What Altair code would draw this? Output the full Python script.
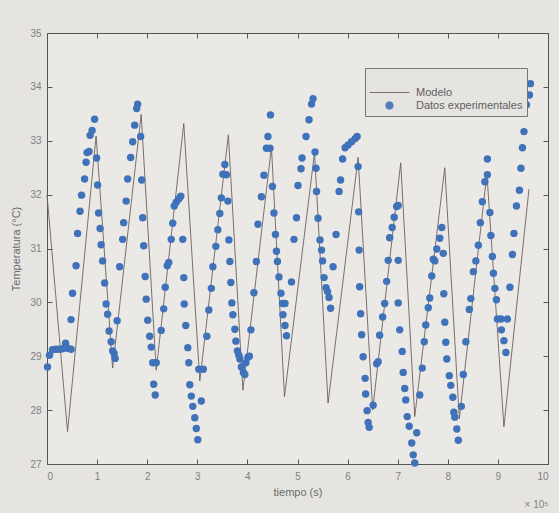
import altair as alt
import pandas as pd

# ---- data (time in units of 1e5 s) ----
t_datos = [0.01, 0.05, 0.11, 0.18, 0.25, 0.31, 0.37, 0.41, 0.48,
           0.48, 0.51, 0.58, 0.61, 0.66, 0.69, 0.75, 0.78, 0.80, 0.84, 0.86, 0.90, 0.95,
           0.99, 1.01, 1.03, 1.06, 1.08, 1.11, 1.15, 1.18, 1.21, 1.24, 1.28, 1.31, 1.34, 1.36,
           1.40, 1.45, 1.51, 1.53, 1.58, 1.61, 1.67, 1.71, 1.75, 1.79, 1.81,
           1.87, 1.89, 1.91, 1.93, 1.96, 1.98, 2.01, 2.05, 2.08, 2.11, 2.13, 2.16, 2.18,
           2.28, 2.33, 2.36, 2.40, 2.43, 2.48, 2.51, 2.54, 2.58, 2.63, 2.67,
           2.71, 2.73, 2.74, 2.77, 2.81, 2.83, 2.85, 2.88, 2.91, 2.95, 2.98, 3.01, 3.03, 3.08, 3.12,
           3.19, 3.23, 3.28, 3.31, 3.37, 3.41, 3.45, 3.48, 3.51, 3.55, 3.58,
           3.61, 3.63, 3.65, 3.67, 3.69, 3.71, 3.75, 3.77, 3.80, 3.83, 3.85, 3.88, 3.92, 3.95, 3.97, 4.01, 4.04,
           4.07, 4.13, 4.18, 4.21, 4.28, 4.33, 4.38, 4.41, 4.45, 4.46,
           4.50, 4.53, 4.56, 4.58, 4.60, 4.63, 4.67, 4.70, 4.75, 4.71, 4.75, 4.78,
           4.88, 4.93, 4.98, 5.01, 5.07, 5.09, 5.17, 5.23, 5.28, 5.31,
           5.35, 5.37, 5.38, 5.41, 5.45, 5.48, 5.50, 5.53, 5.57, 5.60, 5.63, 5.66,
           5.71, 5.77, 5.83, 5.86, 5.90, 5.95, 6.01, 6.08, 6.15, 6.19,
           6.21, 6.22, 6.23, 6.24, 6.26, 6.28, 6.31, 6.35, 6.36, 6.39, 6.41, 6.43, 6.51, 6.58, 6.61,
           6.64, 6.70, 6.74, 6.78, 6.81, 6.84, 6.89, 6.93, 6.98, 7.01, 7.01,
           7.01, 7.04, 7.09, 7.11, 7.14, 7.16, 7.19, 7.23, 7.28, 7.31, 7.34, 7.38,
           7.44, 7.49, 7.53, 7.56, 7.61, 7.64, 7.68, 7.71, 7.74, 7.78, 7.84, 7.88, 7.91,
           7.92, 7.94, 7.96, 7.98, 8.03, 8.06, 8.10, 8.12, 8.14, 8.18, 8.21, 8.27,
           8.31, 8.36, 8.43, 8.46, 8.51, 8.56, 8.61, 8.65, 8.69, 8.74, 8.79, 8.79,
           8.84, 8.86, 8.89, 8.91, 8.94, 8.97, 8.99, 9.06, 9.19, 9.07, 9.12, 9.16,
           9.24, 9.29, 9.32, 9.37, 9.43, 9.46, 9.49, 9.52, 9.57, 9.63, 9.65]

temp_datos = [28.80, 29.02, 29.12, 29.13, 29.13, 29.14, 29.24, 29.15, 29.13,
              29.68, 30.17, 30.68, 31.28, 31.69, 31.99, 32.29, 32.60, 32.78, 32.80, 33.10, 33.19, 33.40,
              32.68, 32.18, 31.66, 31.37, 31.07, 30.77, 30.36, 29.97, 29.78, 29.47, 29.27, 29.10, 29.05, 28.96,
              29.66, 30.66, 31.17, 31.48, 31.88, 32.29, 32.69, 32.98, 33.29, 33.60, 33.68,
              33.08, 32.27, 31.57, 31.05, 30.48, 30.06, 29.67, 29.37, 29.17, 28.88, 28.48, 28.28, 28.88,
              29.48, 29.88, 30.28, 30.68, 30.74, 31.17, 31.47, 31.79, 31.86, 31.92, 31.97,
              31.17, 30.46, 29.97, 29.57, 29.16, 28.88, 28.47, 28.26, 28.07, 27.86, 27.66, 27.45, 28.76, 28.17, 28.76,
              29.37, 29.86, 30.26, 30.66, 31.04, 31.35, 31.65, 31.94, 32.38, 32.56, 32.37,
              31.88, 31.16, 30.76, 30.37, 29.99, 29.77, 29.50, 29.28, 29.10, 29.02, 28.95, 28.80, 28.70, 28.66, 28.88, 28.98, 29.00,
              29.49, 30.18, 30.76, 31.45, 31.96, 32.36, 32.86, 33.08, 32.86, 33.48,
              32.15, 31.66, 31.26, 30.95, 30.76, 30.47, 30.17, 29.98, 29.98, 29.77, 29.57, 29.38,
              30.38, 31.17, 31.57, 32.17, 32.48, 32.68, 33.08, 33.39, 33.68, 33.78,
              32.79, 32.49, 32.06, 31.56, 31.16, 30.97, 30.77, 30.46, 30.27, 30.20, 30.09, 29.89,
              30.66, 31.26, 32.06, 32.27, 32.66, 32.87, 32.92, 32.98, 33.04, 33.08,
              32.52, 31.68, 30.97, 30.29, 29.79, 29.40, 28.99, 28.59, 28.30, 27.99, 27.77, 27.68, 28.09, 28.86, 28.90,
              29.39, 29.73, 29.98, 30.39, 30.78, 31.20, 31.39, 31.58, 31.78, 31.80, 30.78,
              29.99, 29.49, 29.09, 28.70, 28.40, 28.19, 27.88, 27.70, 27.39, 27.17, 27.02, 27.58,
              28.28, 28.78, 29.27, 29.58, 29.90, 30.08, 30.49, 30.80, 30.77, 30.99, 31.19, 31.39, 30.91,
              30.16, 29.63, 29.26, 28.95, 28.64, 28.46, 28.24, 27.96, 27.87, 27.65, 27.44, 28.07,
              28.66, 29.27, 29.87, 30.07, 30.57, 30.77, 31.06, 31.48, 31.87, 32.24, 32.37, 32.66,
              31.67, 31.24, 30.85, 30.54, 30.26, 30.05, 29.69, 29.69, 29.69, 29.49, 29.29, 29.07,
              30.28, 30.89, 31.28, 31.79, 32.08, 32.49, 32.87, 33.17, 33.67, 33.85, 34.06]

t_modelo = [0.00, 0.41, 0.98, 1.31, 1.88, 2.18, 2.73, 3.05, 3.62, 3.91, 4.48, 4.74,
            5.34, 5.61, 6.21, 6.50, 7.06, 7.34, 7.94, 8.23, 8.78, 9.12, 9.62]
temp_modelo = [32.0, 27.6, 33.09, 28.78, 33.49, 28.74, 33.32, 28.54, 33.11, 28.37, 32.88, 28.25,
               32.78, 28.13, 32.69, 28.00, 32.59, 27.88, 32.50, 27.84, 32.39, 27.69, 32.10]

series = ["Modelo", "Datos experimentales"]
x_ticks = list(range(0, 11))
y_ticks = list(range(27, 36))

df_datos = pd.DataFrame({"t": t_datos, "T": temp_datos, "serie": series[1]})
df_modelo = pd.DataFrame({"t": t_modelo, "T": temp_modelo, "serie": series[0]})

FONT = "Liberation Sans"
LINE_C = "#6f625c"
DOT_C = "#3f72b8"
BG = "#e6e4e1"

xscale = alt.Scale(domain=[0, 10], nice=False, zero=False)
yscale = alt.Scale(domain=[27, 35], nice=False, zero=False)

common = dict(domain=False, grid=False, tickColor="#555", tickSize=5, tickWidth=1,
              offset=-5, labelColor="#808080", labelFont=FONT, labelFontSize=10,
              titleColor="#6a6a6a", titleFont=FONT, titleFontSize=11, titleFontWeight="normal")

ax_bottom = alt.Axis(orient="bottom", values=x_ticks, title="tiempo (s)", labelPadding=7,
                     titlePadding=5, **common)
ax_left = alt.Axis(orient="left", values=y_ticks, title="Temperatura (°C)", labelPadding=6,
                   titlePadding=8, **common)
ax_top = alt.Axis(orient="top", values=x_ticks, title=None, labels=False, **common)
ax_right = alt.Axis(orient="right", values=y_ticks, title=None, labels=False, **common)

leg = alt.Legend(title=None, orient="none", legendX=318, legendY=35, strokeColor="#777",
                 fillColor=BG, padding=4, labelFont=FONT, labelFontSize=11, labelColor="#606060",
                 rowPadding=1, symbolStrokeWidth=1, labelOffset=6)

stroke_sc = alt.Scale(domain=series, range=[LINE_C, DOT_C])
fill_sc = alt.Scale(domain=series, range=["transparent", DOT_C])
shape_sc = alt.Scale(domain=series, range=["stroke", "circle"])
size_sc = alt.Scale(domain=series, range=[1600, 55])

linea = alt.Chart(df_modelo).mark_line(strokeWidth=1, opacity=0.9).encode(
    x=alt.X("t:Q", scale=xscale, axis=ax_bottom),
    y=alt.Y("T:Q", scale=yscale, axis=ax_left),
    stroke=alt.Stroke("serie:N", scale=stroke_sc, legend=leg),
)

puntos = alt.Chart(df_datos).mark_point(filled=True, opacity=1).encode(
    x=alt.X("t:Q", scale=xscale, axis=ax_top),
    y=alt.Y("T:Q", scale=yscale, axis=ax_right),
    fill=alt.Fill("serie:N", scale=fill_sc, legend=leg),
    shape=alt.Shape("serie:N", scale=shape_sc, legend=leg),
    size=alt.Size("serie:N", scale=size_sc, legend=leg),
)

chart = alt.layer(linea, puntos).resolve_axis(x="independent", y="independent").properties(
    width=501, height=431,
    autosize=alt.AutoSizeParams(type="none"),
    padding={"left": 47, "top": 33, "right": 11, "bottom": 49},
    background=BG,
    title=alt.TitleParams("× 10⁵", orient="bottom", anchor="end", fontSize=10, font=FONT,
                          color="#808080", fontWeight="normal", offset=3),
).configure_view(stroke="#555", strokeWidth=1, fill="#ebe9e6")

chart.save("out.html", embed_options={"renderer": "svg", "actions": False})
